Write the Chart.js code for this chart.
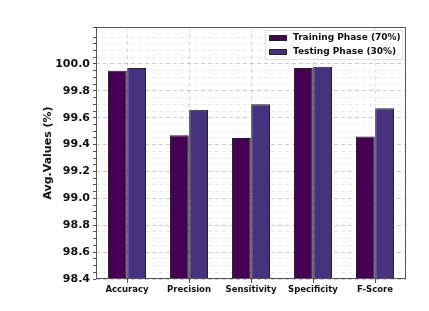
<!DOCTYPE html>
<html>
<head>
<meta charset="utf-8">
<script src="https://cdn.jsdelivr.net/npm/chart.js@4.4.0/dist/chart.umd.min.js"></script>
<style>
  html, body { margin: 0; padding: 0; background: #fff; }
  #wrap { width: 429px; height: 311px; }
</style>
</head>
<body>
<div id="wrap"><canvas id="bars" width="429" height="311"></canvas></div>
<script>
var categories = ['Accuracy', 'Precision', 'Sensitivity', 'Specificity', 'F-Score'];
var trainValues = [99.95, 99.47, 99.45, 99.97, 99.46];
var testValues = [99.97, 99.66, 99.70, 99.98, 99.67];
var seriesNames = ['Training Phase (70%)', 'Testing Phase (30%)'];
var seriesColors = ['#440154', '#46327e'];

var FONT = 'DejaVu Sans';

function isMajor(v) {
  return v <= 100.001 && Math.abs(Math.round(v * 100) % 20) === 0 && Math.abs(v * 100 - Math.round(v * 100)) < 1e-6;
}

// frame + legend box inside the plot
var framePlugin = {
  id: 'frame',
  afterDraw: function (chart) {
    var c = chart.ctx, a = chart.chartArea;
    c.save();
    c.strokeStyle = '#555';
    c.lineWidth = 1;
    c.strokeRect(a.left + 0.5, a.top + 0.5, a.right - a.left - 1, a.bottom - a.top - 1);

    var bx = a.right - 141, by = a.top + 3, bw = 137, bh = 29;
    c.fillStyle = 'rgba(255,255,255,0.85)';
    c.strokeStyle = '#ddd';
    c.fillRect(bx, by, bw, bh);
    c.strokeRect(bx + 0.5, by + 0.5, bw, bh);
    c.font = 'bold 9px ' + FONT;
    c.textBaseline = 'middle';
    for (var i = 0; i < seriesNames.length; i++) {
      var y = by + 8 + i * 14;
      c.fillStyle = seriesColors[i];
      c.fillRect(bx + 4, y - 3, 18, 6);
      c.strokeStyle = '#222';
      c.strokeRect(bx + 4.5, y - 2.5, 17, 5);
      c.fillStyle = '#111';
      c.fillText(seriesNames[i], bx + 28, y);
    }
    c.restore();
  }
};

var ctx = document.getElementById('bars');
var chart = new Chart(ctx, {
  type: 'bar',
  data: {
    labels: categories,
    datasets: [{
      label: seriesNames[0],
      data: trainValues,
      backgroundColor: seriesColors[0],
      borderColor: '#222',
      borderWidth: 1,
      categoryPercentage: 0.62,
      barPercentage: 0.98
    }, {
      label: seriesNames[1],
      data: testValues,
      backgroundColor: seriesColors[1],
      borderColor: '#222',
      borderWidth: 1,
      categoryPercentage: 0.62,
      barPercentage: 0.98
    }]
  },
  options: {
    responsive: false,
    animation: false,
    layout: { padding: { left: 0, right: 23, top: 27, bottom: 0 } },
    plugins: {
      legend: { display: false },
      tooltip: { enabled: false }
    },
    scales: {
      x: {
        grid: {
          offset: false,
          color: 'rgba(0,0,0,0.12)',
          tickColor: '#555',
          tickLength: 4
        },
        border: { display: false, dash: [4, 3] },
        ticks: {
          color: '#111',
          font: { family: FONT, size: 8.5, weight: 'bold' },
          padding: 2
        },
        afterFit: function (s) { s.height = 32; }
      },
      y: {
        min: 98.4,
        max: 100.275,
        ticks: {
          stepSize: 0.05,
          autoSkip: false,
          color: '#111',
          font: { family: FONT, size: 11, weight: 'bold' },
          padding: 3,
          callback: function (v) { return isMajor(v) ? v.toFixed(1) : ''; }
        },
        grid: {
          color: function (c) {
            return isMajor(c.tick.value) ? 'rgba(0,0,0,0.2)' : 'rgba(0,0,0,0.08)';
          },
          tickColor: '#555',
          tickLength: 3
        },
        border: { display: false, dash: [4, 3] },
        title: {
          display: true,
          text: 'Avg.Values (%)',
          color: '#111',
          font: { family: FONT, size: 11, weight: 'bold' },
          padding: { top: 42, bottom: 4 }
        },
        afterFit: function (s) { s.width = 96; }
      }
    }
  },
  plugins: [framePlugin]
});
</script>
</body>
</html>
